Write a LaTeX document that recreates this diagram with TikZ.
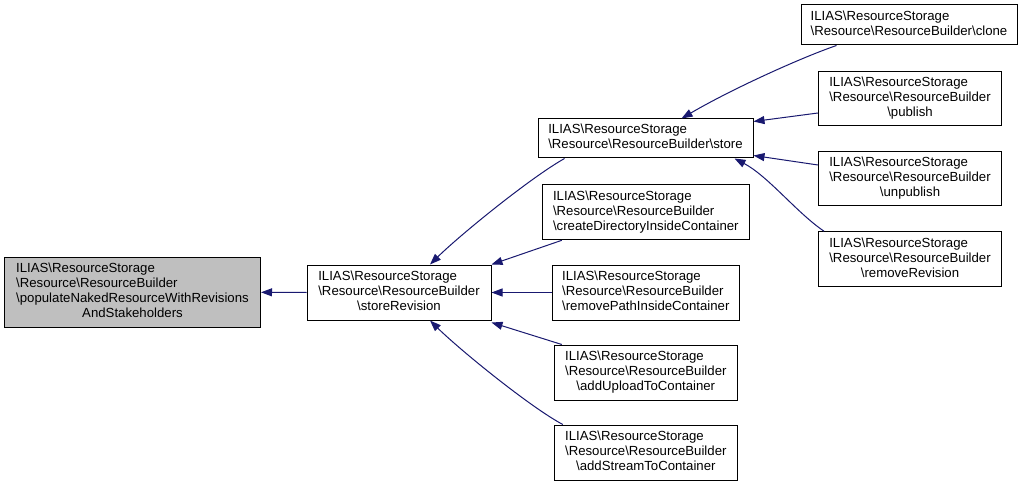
\documentclass[tikz,border=0pt]{standalone}
\usepackage{fontspec}
\setmainfont{Liberation Sans}
\usetikzlibrary{arrows.meta}
\definecolor{edgeblue}{HTML}{191970}
\definecolor{boxgray}{HTML}{BFBFBF}
\newcommand{\bsl}{\textbackslash}
\newcommand{\lblC}[1]{\begin{tabular}{@{}l@{}}ILIAS\bsl ResourceStorage\\\bsl Resource\bsl ResourceBuilder\\\multicolumn{1}{@{}c@{}}{\bsl #1}\end{tabular}}
\newcommand{\lblL}[1]{\begin{tabular}{@{}l@{}}ILIAS\bsl ResourceStorage\\\bsl Resource\bsl ResourceBuilder\\\bsl #1\end{tabular}}
\newcommand{\lblT}[1]{\begin{tabular}{@{}l@{}}ILIAS\bsl ResourceStorage\\\bsl Resource\bsl ResourceBuilder\bsl #1\end{tabular}}
\tikzset{
  fnbox/.style={draw=black, line width=1pt, fill=white, inner sep=0pt, anchor=center,
    font=\fontsize{13.2}{15}\selectfont},
  edge/.style={draw=edgeblue, line width=1pt, -{Triangle[length=11pt,width=8pt]}},
}
\begin{document}
\begin{tikzpicture}[x=1pt,y=-1pt]
\useasboundingbox[fill=white] (0,0) rectangle (1024,486);
% nodes
\node[fnbox, fill=boxgray, minimum width=256, minimum height=70] (A) at (132.5,292.3)
  {\begin{tabular}{@{}l@{}}ILIAS\bsl ResourceStorage\\\bsl Resource\bsl ResourceBuilder\\\bsl populateNakedResourceWithRevisions\\\multicolumn{1}{@{}c@{}}{AndStakeholders}\end{tabular}};
\node[fnbox, minimum width=184, minimum height=55] (B) at (399,292.5) {\lblC{storeRevision}};
\node[fnbox, minimum width=215, minimum height=39] (C) at (645.5,138.5) {\lblT{store}};
\node[fnbox, minimum width=207, minimum height=55] (D) at (645.8,212.3) {\lblL{createDirectoryInsideContainer}};
\node[fnbox, minimum width=187, minimum height=55] (E) at (645.8,292.5) {\lblL{removePathInsideContainer}};
\node[fnbox, minimum width=183, minimum height=55] (F) at (645.8,372.5) {\lblC{addUploadToContainer}};
\node[fnbox, minimum width=183, minimum height=55] (G) at (645.8,452.5) {\lblC{addStreamToContainer}};
\node[fnbox, minimum width=216, minimum height=40] (H) at (909,25) {\lblT{clone}};
\node[fnbox, minimum width=183, minimum height=54] (I) at (910,99) {\lblC{publish}};
\node[fnbox, minimum width=183, minimum height=54] (J) at (910,179) {\lblC{unpublish}};
\node[fnbox, minimum width=183, minimum height=55] (K) at (910,259.2) {\lblC{removeRevision}};
% edges
\draw[edge] (B.west) -- (A.east);
\draw[edge] ([xshift=27pt]C.south west) .. controls (530,178) and (460,235) .. ([xshift=31pt]B.north);
\draw[edge] ([xshift=20pt]D.south west) -- (B.north east);
\draw[edge] (E.west) -- (B.east);
\draw[edge] ([xshift=8pt]F.north west) -- ([yshift=-2pt]B.south east);
\draw[edge] ([xshift=9pt]G.north west) .. controls (530,407) and (460,350) .. ([xshift=31pt]B.south);
\draw[edge] ([xshift=36pt]H.south west) .. controls (800,58) and (730,90) .. ([xshift=36pt]C.north);
\draw[edge] ([yshift=-14pt]I.west) -- ([yshift=-3pt]C.north east);
\draw[edge] ([yshift=14pt]J.west) -- ([yshift=3pt]C.south east);
\draw[edge] ([xshift=6pt]K.north west) .. controls (797,213) and (768,176) .. ([xshift=89pt]C.south);
\end{tikzpicture}
\end{document}
